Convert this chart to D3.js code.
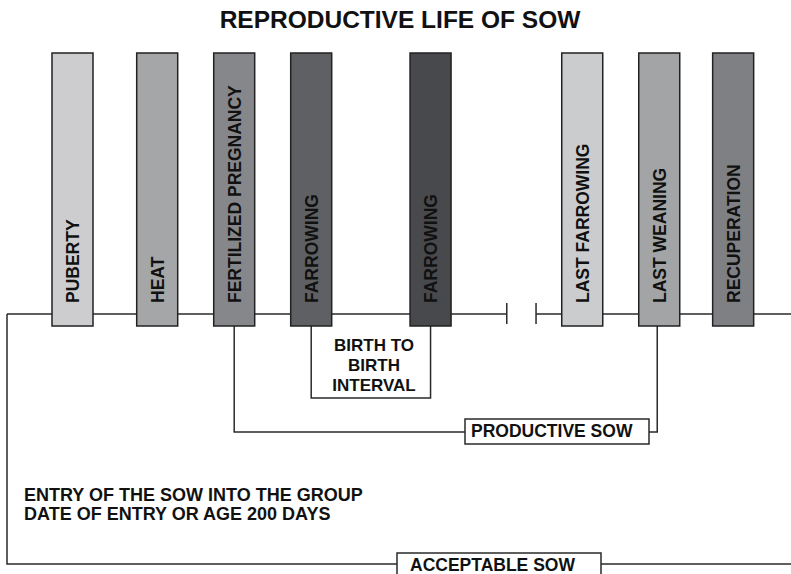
<!DOCTYPE html>
<html>
<head>
<meta charset="utf-8">
<script src="https://cdn.jsdelivr.net/npm/d3@7"></script>
<style>
  body { margin: 0; background: #fff; }
  svg { display: block; font-family: "Liberation Sans", Arial, sans-serif; font-weight: bold; }
</style>
</head>
<body>
<svg width="791" height="574"></svg>
<script>
// stages of the sow's life, position along the timeline (arbitrary units)
const stages = ['PUBERTY', 'HEAT', 'FERTILIZED PREGNANCY', 'FARROWING', 'FARROWING',
                'LAST FARROWING', 'LAST WEANING', 'RECUPERATION']
const stagePos = [0, 1.1, 2.1, 3.1, 4.65, 6.62, 7.62, 8.58]
const stageFill = ['#cdcdcf', '#a5a6a8', '#86878a', '#5f6063', '#48494c', '#cbcccd', '#a3a4a6', '#7f8083']
const breakPos = [5.64, 6.02]

// brackets under the timeline: [from stage, to stage]
const intervalLabel = ['BIRTH TO', 'BIRTH', 'INTERVAL']
const productive = [2, 6]
const entryLabel = ['ENTRY OF THE SOW INTO THE GROUP', 'DATE OF ENTRY OR AGE 200 DAYS']

const svg = d3.select('svg')
const x = d3.scaleLinear().domain([0, 1]).range([72.5, 149.5])
const barW = 41
const barTop = 53, barBottom = 326, lineY = 314
const ink = '#2a2a2a'

// title
svg.append('text')
  .attr('x', 400).attr('y', 28)
  .attr('text-anchor', 'middle')
  .attr('font-size', 24.5)
  .attr('fill', '#111')
  .text('REPRODUCTIVE LIFE OF SOW')

const lines = svg.append('g')
  .attr('fill', 'none')
  .attr('stroke', ink)
  .attr('stroke-width', 1.5)

// timeline with a gap
lines.append('line').attr('x1', 7).attr('x2', x(breakPos[0])).attr('y1', lineY).attr('y2', lineY)
lines.append('line').attr('x1', x(breakPos[1])).attr('x2', 791).attr('y1', lineY).attr('y2', lineY)
breakPos.forEach(p => {
  lines.append('line').attr('x1', x(p)).attr('x2', x(p)).attr('y1', 303).attr('y2', 324)
})

// acceptable sow frame
lines.append('path')
  .attr('d', `M7,${lineY}V564H397M601,564H791`)

// productive sow bracket
lines.append('path')
  .attr('d', `M${x(stagePos[productive[0]])},${barBottom}V432H465M649,432H${x(stagePos[productive[1]]) - 2}V${barBottom}`)

// birth to birth bracket
lines.append('path')
  .attr('d', `M${x(stagePos[3])},${barBottom}V398H${x(stagePos[4])}V${barBottom}`)

// labelled boxes
const boxes = [
  { x0: 465, x1: 649, y0: 419, y1: 444, tx: 471, ty: 437, label: 'PRODUCTIVE SOW' },
  { x0: 397, x1: 601, y0: 553, y1: 590, tx: 410, ty: 571, label: 'ACCEPTABLE SOW' }
]
boxes.forEach(b => {
  svg.append('rect')
    .attr('x', b.x0).attr('y', b.y0)
    .attr('width', b.x1 - b.x0).attr('height', b.y1 - b.y0)
    .attr('fill', '#fff').attr('stroke', ink).attr('stroke-width', 1.5)
  svg.append('text')
    .attr('x', b.tx).attr('y', b.ty)
    .attr('font-size', 17.5).attr('fill', '#111')
    .text(b.label)
})

// bars
const bars = svg.selectAll('g.stage')
  .data(stages.map((s, i) => ({ name: s, pos: stagePos[i], fill: stageFill[i] })))
  .enter().append('g')
  .attr('class', 'stage')

bars.append('rect')
  .attr('x', d => x(d.pos) - barW / 2)
  .attr('y', barTop)
  .attr('width', barW)
  .attr('height', barBottom - barTop)
  .attr('fill', d => d.fill)
  .attr('stroke', '#222')
  .attr('stroke-width', 1.5)

bars.append('text')
  .attr('transform', d => `translate(${x(d.pos) + 6.5},303) rotate(-90)`)
  .attr('font-size', 17.5)
  .attr('fill', '#111')
  .text(d => d.name)

// interval label
svg.append('g').selectAll('text')
  .data(intervalLabel)
  .enter().append('text')
  .attr('x', 374)
  .attr('y', (d, i) => 351 + i * 20)
  .attr('text-anchor', 'middle')
  .attr('font-size', 17)
  .attr('fill', '#111')
  .text(d => d)

// entry label
svg.append('g').selectAll('text')
  .data(entryLabel)
  .enter().append('text')
  .attr('x', 24)
  .attr('y', (d, i) => 501 + i * 19)
  .attr('font-size', 18)
  .attr('fill', '#111')
  .text(d => d)
</script>
</body>
</html>
